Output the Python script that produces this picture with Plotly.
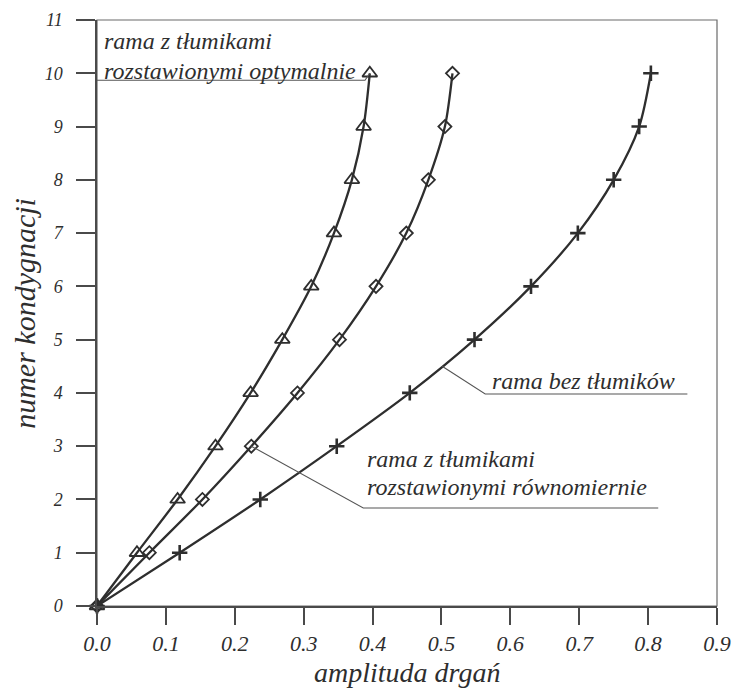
import plotly.graph_objects as go

# storey number (0 = foundation, 1..10 = storeys)
storeys = [0, 1, 2, 3, 4, 5, 6, 7, 8, 9, 10]

# vibration amplitude per storey
amp_optimal = [0.0, 0.058, 0.117, 0.172, 0.223, 0.269, 0.311, 0.344, 0.370, 0.387, 0.396]
amp_uniform = [0.0, 0.076, 0.153, 0.224, 0.291, 0.352, 0.405, 0.449, 0.481, 0.505, 0.516]
amp_none = [0.0, 0.120, 0.237, 0.348, 0.454, 0.548, 0.630, 0.698, 0.750, 0.787, 0.804]

x_ticks = [0.0, 0.1, 0.2, 0.3, 0.4, 0.5, 0.6, 0.7, 0.8, 0.9]
y_ticks = list(range(0, 12))

FONT = "Liberation Serif, Times New Roman, serif"
INK = "#2e2e2e"
AXIS = "#4a4a4a"
LEADER = "#555555"

fig = go.Figure()

series = [
    (amp_optimal, "triangle-up-open", 13, 1.8),
    (amp_uniform, "diamond-open", 10, 1.8),
    (amp_none, "cross-thin-open", 11, 2.6),
]
for xs, symbol, size, mlw in series:
    fig.add_trace(go.Scatter(
        x=xs, y=storeys, mode="lines+markers",
        line=dict(color=INK, width=2.3, shape="spline", smoothing=0.8),
        marker=dict(symbol=symbol, size=size, color=INK,
                    line=dict(color=INK, width=mlw)),
        cliponaxis=False, showlegend=False,
    ))

# leader lines for the curve labels
def leader(xs, ys):
    fig.add_trace(go.Scatter(x=xs, y=ys, mode="lines",
                             line=dict(color=LEADER, width=1.1),
                             hoverinfo="skip", showlegend=False))

# optimal layout label: underline running to the top triangle
leader([0.0, 0.389, amp_optimal[10]], [9.87, 9.87, storeys[10]])
# no-damper label
mid_x = (amp_none[4] + amp_none[5]) / 2
mid_y = (storeys[4] + storeys[5]) / 2
leader([mid_x, 0.5635, 0.857], [mid_y, 3.98, 3.98])
# uniform layout label
leader([amp_uniform[3], 0.3865, 0.8147], [storeys[3], 1.84, 1.84])

label_font = dict(family=FONT, size=24, color=INK, style="italic")
labels = [
    (0.0077, 10.61, "rama z tłumikami"),
    (0.0077, 10.05, "rozstawionymi optymalnie"),
    (0.571, 4.23, "rama bez tłumików"),
    (0.3893, 2.76, "rama z tłumikami"),
    (0.3893, 2.235, "rozstawionymi równomiernie"),
]
for lx, ly, txt in labels:
    fig.add_annotation(x=lx, y=ly, text=txt, showarrow=False,
                       xanchor="left", yanchor="middle", font=label_font)

# axis titles
fig.add_annotation(x=0.5, y=-0.1425, xref="paper", yref="paper",
                   text="amplituda drgań", showarrow=False,
                   xanchor="center", yanchor="bottom",
                   font=dict(family=FONT, size=28, color=INK, style="italic"))
fig.add_annotation(x=-0.118, y=0.5, xref="paper", yref="paper",
                   text="numer kondygnacji", showarrow=False, textangle=-90,
                   xanchor="center", yanchor="middle",
                   font=dict(family=FONT, size=30, color=INK, style="italic"))

fig.update_layout(
    width=734, height=691,
    margin=dict(l=97, r=17, t=20, b=85),
    paper_bgcolor="white", plot_bgcolor="white",
    font=dict(family=FONT, color=INK, style="italic"),
    shapes=[dict(type="rect", xref="paper", yref="paper", x0=0, y0=0, x1=1, y1=1,
                 line=dict(color="#6a6a6a", width=1.2), layer="below")],
)
fig.update_xaxes(
    range=[0, 0.9], tickvals=x_ticks, tickformat=".1f", automargin=False,
    ticks="outside", ticklen=17, tickwidth=1.5, tickcolor=AXIS,
    showline=True, linecolor=AXIS, linewidth=1.5, showgrid=False, zeroline=False,
    ticklabelstandoff=0,
    tickfont=dict(family=FONT, size=22, color=INK, style="italic"),
)
fig.update_yaxes(
    range=[0, 11], tickvals=y_ticks, automargin=False,
    ticks="outside", ticklen=19, tickwidth=1.5, tickcolor=AXIS,
    showline=True, linecolor=AXIS, linewidth=1.5, showgrid=False, zeroline=False,
    ticklabelstandoff=10,
    tickfont=dict(family=FONT, size=18, color=INK, style="italic"),
)

fig.write_html("out.html")
